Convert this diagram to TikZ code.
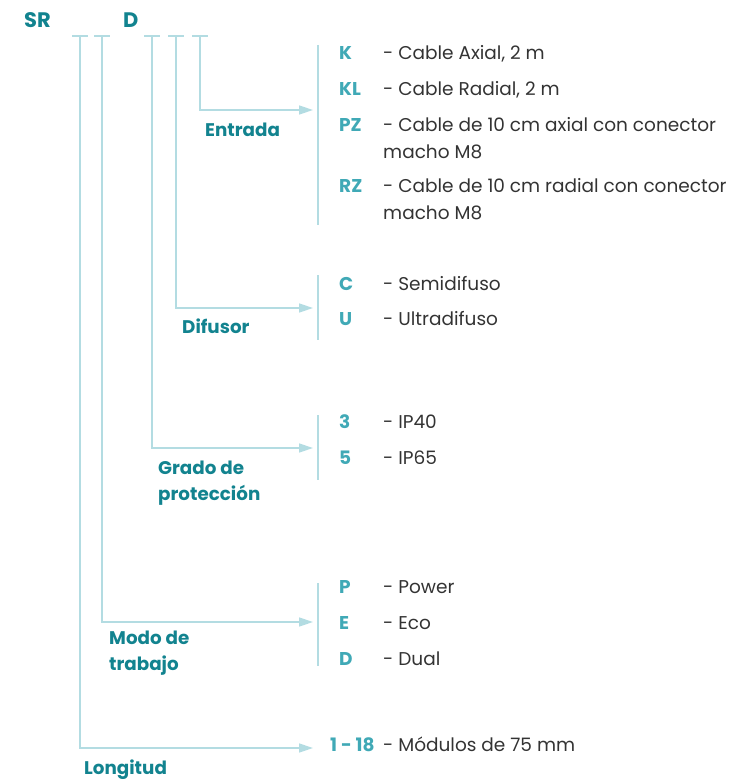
\documentclass[tikz,border=0pt]{standalone}
\usepackage{fontspec}
\setmainfont{Poppins}
\usetikzlibrary{arrows.meta,calc}
\definecolor{tealdark}{HTML}{12838F}
\definecolor{teallight}{HTML}{40A9B6}
\definecolor{lineblue}{HTML}{B3DCE2}
\definecolor{txtgray}{HTML}{333333}
\begin{document}
\begin{tikzpicture}[x=1pt,y=-1pt,
  lbl/.style={anchor=base west,inner sep=0pt,font=\fontsize{18.3}{26.5}\selectfont\bfseries,text=tealdark,align=left},
  hdr/.style={anchor=base west,inner sep=0pt,font=\fontsize{21}{24}\selectfont\bfseries,text=tealdark},
  codetxt/.style={anchor=base west,inner sep=0pt,font=\fontsize{18.5}{20}\selectfont\bfseries,text=teallight},
  desc/.style={anchor=base west,inner sep=0pt,font=\fontsize{18.5}{27}\selectfont,text=txtgray,align=left},
  ln/.style={draw=lineblue,line width=1.5pt},
  arr/.style={ln,-{Triangle[length=14pt,width=9pt]}},
  tick/.style={draw=lineblue,line width=1.2pt}]
\useasboundingbox (0,0) rectangle (747,784);
% header
\node[hdr] (sr) at (24,27.5) {SR};
\node[hdr] (d) at (123,27.5) {D};
% ticks
\foreach \n/\x in {t1/80,t2/102,t3/152,t4/176,t5/200}{
  \coordinate (\n) at (\x,36);
  \draw[tick] ($(\n)+(-8,0)$) -- ($(\n)+(8,0)$);
}
% arrow ends
\coordinate (e1) at (313,110);
\coordinate (e2) at (313,308);
\coordinate (e3) at (313,448);
\coordinate (e4) at (313,622);
\coordinate (e5) at (313,748);
\draw[arr] (t5) |- (e1);
\draw[arr] (t4) |- (e2);
\draw[arr] (t3) |- (e3);
\draw[arr] (t2) |- (e4);
\draw[arr] (t1) |- (e5);
% bars
\draw[ln] (318,45) coordinate (b1a) -- (318,225) coordinate (b1b);
\draw[ln] (318,275) coordinate (b2a) -- (318,340) coordinate (b2b);
\draw[ln] (318,415) coordinate (b3a) -- (318,480) coordinate (b3b);
\draw[ln] (318,583) coordinate (b4a) -- (318,666) coordinate (b4b);
% labels (base = last line)
\node[lbl] (l1) at (205,136.5) {Entrada};
\node[lbl] (l2) at (182,333.5) {Difusor};
\node[lbl] (l3) at (158,500.5) {Grado de\\protección};
\node[lbl] (l4) at (109,670.5) {Modo de\\trabajo};
\node[lbl] (l5) at (84,774.5) {Longitud};
% Entrada
\node[codetxt] (k) at (339,59.5) {K};
\node[desc] (kd) at (383,59.5) {- Cable Axial, 2 m};
\node[codetxt] (kl) at (339,95.5) {KL};
\node[desc] (kld) at (383,95.5) {- Cable Radial, 2 m};
\node[codetxt] (pz) at (339,131.5) {PZ};
\node[desc] (pzd) at (383,158.5) {- Cable de 10 cm axial con conector\\macho M8};
\node[codetxt] (rz) at (339,192.5) {RZ};
\node[desc] (rzd) at (383,219) {- Cable de 10 cm radial con conector\\macho M8};
% Difusor
\node[codetxt] (c) at (339,290.5) {C};
\node[desc] (cd) at (383,290.5) {- Semidifuso};
\node[codetxt] (u) at (339,325.5) {U};
\node[desc] (ud) at (383,325.5) {- Ultradifuso};
% Grado
\node[codetxt] (g3) at (339,428.5) {3};
\node[desc] (g3d) at (383,428.5) {- IP40};
\node[codetxt] (g5) at (339,464.5) {5};
\node[desc] (g5d) at (383,464.5) {- IP65};
% Modo
\node[codetxt] (p) at (339,593.5) {P};
\node[desc] (pd) at (383,593.5) {- Power};
\node[codetxt] (e) at (339,629.5) {E};
\node[desc] (ed) at (383,629.5) {- Eco};
\node[codetxt] (dd) at (339,665.5) {D};
\node[desc] (ddd) at (383,665.5) {- Dual};
% Longitud
\node[codetxt] (n) at (330,751.5) {1 - 18};
\node[desc] (nd) at (383,751.5) {- Módulos de 75 mm};
\end{tikzpicture}
\end{document}
